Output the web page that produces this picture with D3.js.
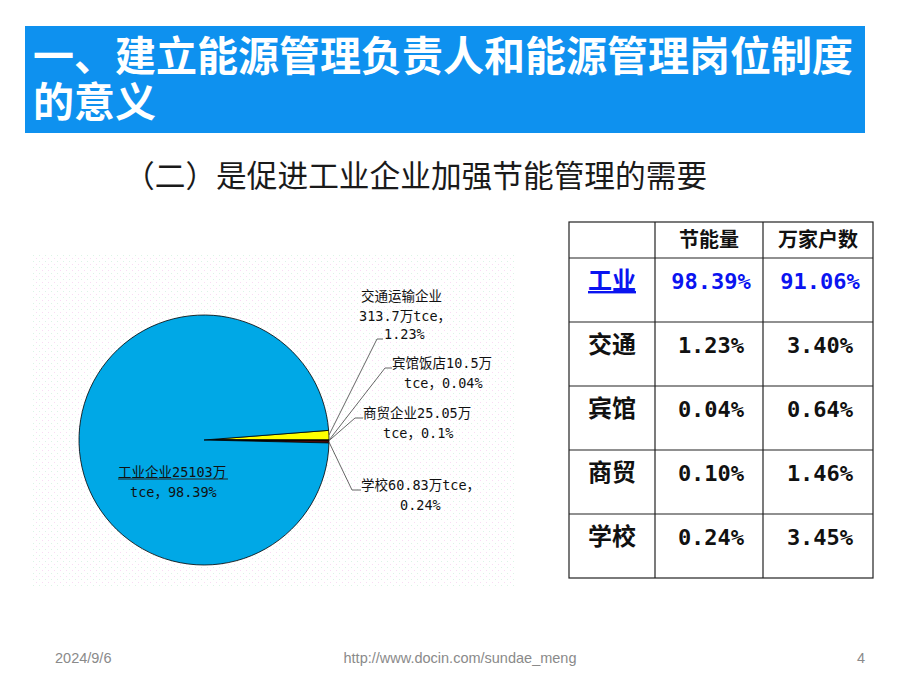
<!DOCTYPE html>
<html lang="zh">
<meta charset="utf-8">
<script src="https://d3js.org/d3.v7.min.js"></script>
<style>
  body { margin: 0; background: #fff; }
  .cjk { font-family: "Noto Sans CJK SC", sans-serif; }
</style>
<svg id="base" width="920" height="690"></svg>

<script>
    // pie data (万tce)
    var pieNames = ["工业企业", "交通运输企业", "宾馆饭店", "商贸企业", "学校"];
    var pieValues = [25103, 313.7, 10.5, 25.05, 60.83];
    var pieShares = ["98.39%", "1.23%", "0.04%", "0.1%", "0.24%"];
    var pieColors = ["#00a8e6", "#ffff00", "#1a1a1a", "#800000", "#7a1010"];

    // table data
    var tableHeads = ["节能量", "万家户数"];
    var tableRows = ["工业", "交通", "宾馆", "商贸", "学校"];
    var energySaving = ["98.39%", "1.23%", "0.04%", "0.10%", "0.24%"];
    var householdShare = ["91.06%", "3.40%", "0.64%", "1.46%", "3.45%"];

    var svg = d3.select("#base");

    // title bar
    svg.append("rect")
        .attr("x", 25).attr("y", 26)
        .attr("width", 840).attr("height", 107)
        .attr("fill", "#0e91ef");

    var title = svg.append("text")
        .attr("class", "cjk")
        .attr("fill", "#fff")
        .style("font-size", "41px")
        .style("font-weight", "bold");
    title.append("tspan").attr("x", 33).attr("y", 71)
        .text("一、建立能源管理负责人和能源管理岗位制度");
    title.append("tspan").attr("x", 33).attr("y", 117)
        .text("的意义");

    svg.append("text")
        .attr("class", "cjk")
        .attr("x", 124).attr("y", 187)
        .attr("fill", "#1a1a1a")
        .style("font-size", "30.7px")
        .text("（二）是促进工业企业加强节能管理的需要");

    // chart area with faint dotted background
    var pat = svg.append("defs").append("pattern")
        .attr("id", "dots")
        .attr("width", 6).attr("height", 6)
        .attr("patternUnits", "userSpaceOnUse");
    pat.append("rect").attr("width", 6).attr("height", 6).attr("fill", "#fff");
    pat.append("rect").attr("x", 0).attr("y", 0).attr("width", 1).attr("height", 1).attr("fill", "#f8dcf4");
    pat.append("rect").attr("x", 3).attr("y", 3).attr("width", 1).attr("height", 1).attr("fill", "#dcf4e6");

    svg.append("rect")
        .attr("x", 33).attr("y", 253)
        .attr("width", 482).attr("height", 335)
        .attr("fill", "url(#dots)");

    var cx = 204, cy = 440, r = 125;
    var total = d3.sum(pieValues);

    // order around the pie: transport, hotel, commerce, school, industry
    var order = [1, 2, 3, 4, 0];
    var start = Math.PI / 2 - 2 * Math.PI * pieValues[1] / total;

    var pie = d3.pie()
        .sort(null)
        .value(function (i) { return pieValues[i]; })
        .startAngle(start)
        .endAngle(start + 2 * Math.PI);

    var arc = d3.arc().innerRadius(0).outerRadius(r);
    var slices = pie(order);

    var g = svg.append("g").attr("transform", "translate(" + cx + "," + cy + ")");

    g.selectAll("path")
        .data(slices)
        .enter()
        .append("path")
        .attr("d", arc)
        .attr("fill", function (d) { return pieColors[d.data]; })
        .attr("stroke", "#000")
        .attr("stroke-width", 0.8)
        .attr("stroke-linejoin", "round");

    // label layout (positions only)
    var labelLayout = {
        0: { lines: [[118, 477, "工业企业25103万"], [130, 497, "tce，98.39%"]], underline: true },
        1: { lines: [[361, 301, "交通运输企业"], [359, 321, "313.7万tce，"], [384, 339, "1.23%"]], hook: [377, 383, 339] },
        2: { lines: [[392, 368, "宾馆饭店10.5万"], [404, 388, "tce，0.04%"]], hook: [385, 392, 368] },
        3: { lines: [[363, 418, "商贸企业25.05万"], [383, 438, "tce，0.1%"]], hook: [355, 363, 418] },
        4: { lines: [[361, 490, "学校60.83万tce，"], [400, 510, "0.24%"]], hook: [352, 361, 490] }
    };

    var lbl = svg.append("g")
        .style("font-family", "'DejaVu Sans Mono', 'Noto Sans CJK SC', monospace")
        .style("font-size", "13.5px")
        .attr("fill", "#111");

    slices.forEach(function (s) {
        var L = labelLayout[s.data];
        L.lines.forEach(function (ln) {
            lbl.append("text").attr("x", ln[0]).attr("y", ln[1]).text(ln[2]);
        });
        if (L.underline) {
            lbl.append("line")
                .attr("x1", L.lines[0][0]).attr("x2", L.lines[0][0] + 110)
                .attr("y1", L.lines[0][1] + 2).attr("y2", L.lines[0][1] + 2)
                .attr("stroke", "#222").attr("stroke-width", 1);
        }
        if (L.hook) {
            var a = (s.startAngle + s.endAngle) / 2;
            var px = cx + r * Math.sin(a), py = cy - r * Math.cos(a);
            lbl.append("polyline")
                .attr("points", [[px, py], [L.hook[0], L.hook[2]], [L.hook[1], L.hook[2]]].join(" "))
                .attr("fill", "none")
                .attr("stroke", "#666")
                .attr("stroke-width", 1);
        }
    });

    // table
    var colX = [569, 655, 763, 873];
    var y = d3.scaleBand()
        .domain(tableRows)
        .range([258, 578]);

    var tg = svg.append("g");

    tg.append("rect")
        .attr("x", colX[0]).attr("y", 222)
        .attr("width", colX[3] - colX[0]).attr("height", 578 - 222)
        .attr("fill", "none").attr("stroke", "#222").attr("stroke-width", 1.2);

    colX.slice(1, 3).forEach(function (x) {
        tg.append("line").attr("x1", x).attr("x2", x).attr("y1", 222).attr("y2", 578)
            .attr("stroke", "#222").attr("stroke-width", 1.2);
    });

    tableRows.forEach(function (row) {
        tg.append("line").attr("x1", colX[0]).attr("x2", colX[3])
            .attr("y1", y(row)).attr("y2", y(row))
            .attr("stroke", "#222").attr("stroke-width", 1.2);
    });

    tableHeads.forEach(function (h, i) {
        tg.append("text")
            .attr("class", "cjk")
            .attr("x", (colX[i + 1] + colX[i + 2]) / 2)
            .attr("y", 247)
            .attr("text-anchor", "middle")
            .style("font-size", "20px")
            .style("font-weight", "bold")
            .attr("fill", "#111")
            .text(h);
    });

    tableRows.forEach(function (row, i) {
        var color = i === 0 ? "#0a14f0" : "#111";
        var ty = y(row) + 31;
        tg.append("text")
            .attr("class", "cjk")
            .attr("x", (colX[0] + colX[1]) / 2)
            .attr("y", ty)
            .attr("text-anchor", "middle")
            .style("font-size", "24px")
            .style("font-weight", "bold")
            .style("text-decoration", i === 0 ? "underline" : "none")
            .attr("fill", color)
            .text(row);
        [energySaving[i], householdShare[i]].forEach(function (v, j) {
            tg.append("text")
                .attr("x", (colX[j + 1] + colX[j + 2]) / 2 + 2)
                .attr("y", ty)
                .attr("text-anchor", "middle")
                .style("font-family", "'DejaVu Sans Mono', monospace")
                .style("font-size", "22px")
                .style("font-weight", "bold")
                .attr("fill", color)
                .text(v);
        });
    });

    // footer
    var foot = svg.append("g")
        .style("font-family", "'Liberation Sans', Arial, sans-serif")
        .style("font-size", "14.5px")
        .attr("fill", "#8a8a8a");
    foot.append("text").attr("x", 55).attr("y", 663).text("2024/9/6");
    foot.append("text").attr("x", 460).attr("y", 663).attr("text-anchor", "middle").text("http://www.docin.com/sundae_meng");
    foot.append("text").attr("x", 865).attr("y", 663).attr("text-anchor", "end").text("4");
</script>
</html>
